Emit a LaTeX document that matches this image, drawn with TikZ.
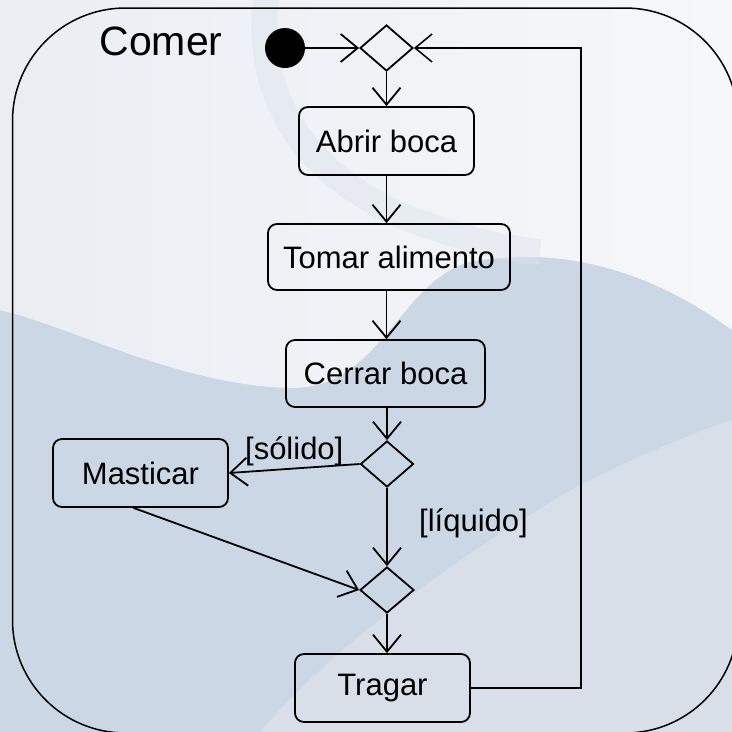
\documentclass[tikz,border=0pt]{standalone}
\usepackage{fontspec}
\setmainfont{Liberation Sans}
\usetikzlibrary{shapes.geometric,arrows.meta}

\definecolor{bgblue}{HTML}{CBD7E5}
\definecolor{bglight}{HTML}{EAEEF3}
\definecolor{bgwhite}{HTML}{F6F7F9}
\definecolor{bgpale}{HTML}{D8DFE9}
\definecolor{bgband}{HTML}{DDE4ED}

\tikzset{
  txt/.style={font=\fontsize{31}{34}\selectfont},
  action/.style={draw, line width=1.8pt, rounded corners=9pt, inner sep=0pt, txt},
  choice/.style={draw, diamond, line width=1.8pt, inner sep=0pt, minimum width=53pt, minimum height=46pt},
  flow/.style={line width=1.8pt, -{Straight Barb[length=17pt,width=28pt]}},
}

\begin{document}
\begin{tikzpicture}[x=1pt,y=-1pt]
\useasboundingbox (0,0) rectangle (732,732);

% backdrop
\fill[bgblue] (0,0) rectangle (732,732);
\shade[left color=bglight, right color=bgwhite]
  (0,0) -- (732,0) -- (732,330)
  .. controls (650,270) and (560,245) .. (470,262)
  .. controls (400,280) and (380,390) .. (290,388)
  .. controls (180,385) and (80,330) .. (0,310) -- cycle;
\draw[bgband, line width=26pt, opacity=0.45]
  (268,-15) .. controls (250,90) and (300,170) .. (400,215)
  .. controls (450,235) and (500,248) .. (540,252);
\fill[bgpale]
  (260,732) .. controls (330,650) and (450,560) .. (580,485)
  .. controls (640,455) and (700,430) .. (732,420) -- (732,732) -- cycle;

% activity frame
\draw[line width=1.5pt, rounded corners=113pt] (12.5,8) rectangle (738,733);
\node[font=\fontsize{41}{44}\selectfont, anchor=base west] (title) at (96,55) {Comer};

% nodes
\node[circle, fill=black, minimum size=40pt, inner sep=0pt] (init) at (285,48) {};
\node[choice] (m1) at (386.5,48) {};
\node[action, minimum width=175pt, minimum height=68pt] (abrir) at (386.5,141) {Abrir boca};
\node[action, minimum width=242pt, minimum height=66pt] (tomar) at (389,257) {Tomar alimento};
\node[action, minimum width=199pt, minimum height=67pt] (cerrar) at (385.5,373.5) {Cerrar boca};
\node[choice] (dec) at (387,464) {};
\node[action, minimum width=175pt, minimum height=68pt] (mast) at (140.5,473) {Masticar};
\node[choice, minimum width=54pt] (m2) at (387,590) {};
\node[action, minimum width=175pt, minimum height=68pt] (tragar) at (382.5,688) {Tragar};
\coordinate (loop) at (581,0);

% connectors
\draw[flow] (init) -- (m1.west);
\draw[flow] (m1.south) -- (m1.south |- abrir.north);
\draw[flow] (m1.south |- abrir.south) -- (m1.south |- tomar.north);
\draw[flow] (m1.south |- tomar.south) -- (m1.south |- cerrar.north);
\draw[flow] (dec.north |- cerrar.south) -- (dec.north);
\draw[flow] (dec.west) -- (mast.east)
  node[txt, pos=0.5, above=-2pt] (lsol) {[sólido]};
\draw[flow] (dec.south) -- (m2.north)
  node[txt, pos=0.45, right=28pt] (lliq) {[líquido]};
\draw[flow] ([xshift=-7pt]mast.south) -- (m2.west);
\draw[flow] (m2.south) -- (m2.south |- tragar.north);
\draw[flow, line width=1.5pt] (tragar.east) -| (loop |- m1.east) -- (m1.east);
\end{tikzpicture}
\end{document}
